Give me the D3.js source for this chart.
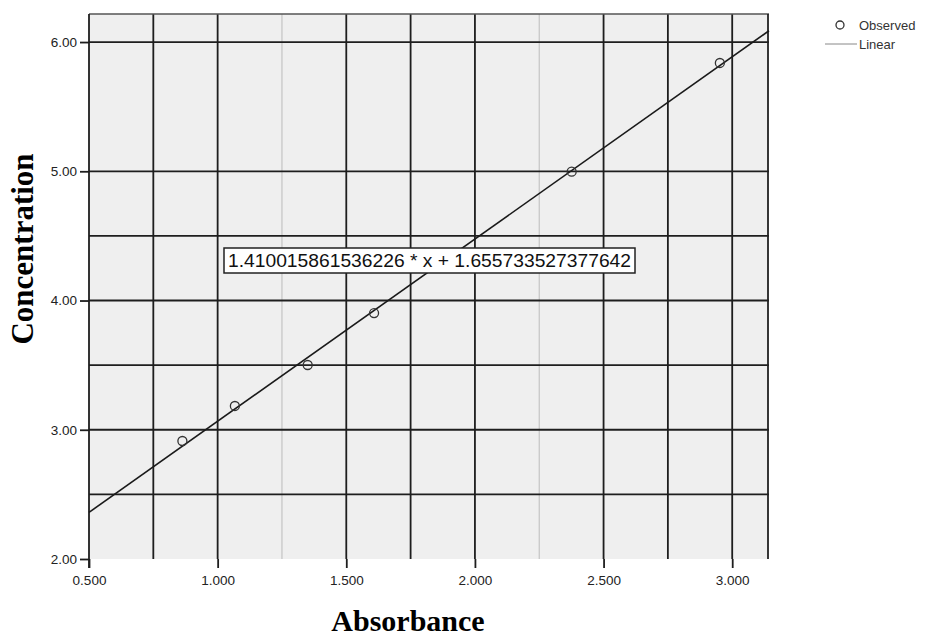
<!DOCTYPE html>
<html>
<head>
<meta charset="utf-8">
<script src="https://cdn.jsdelivr.net/npm/d3@7"></script>
<style>
  body { margin: 0; background: #fff; }
  svg { display: block; }
</style>
</head>
<body>
<script>
// observed points
const absorbance = [0.863, 1.067, 1.350, 1.608, 2.376, 2.952];
const concentration = [2.913, 3.184, 3.501, 3.903, 4.997, 5.838];

// linear fit
const slope = 1.410015861536226;
const intercept = 1.655733527377642;
const fitLabel = "1.410015861536226 * x + 1.655733527377642";

// ticks and grid
const xTicks = [0.5, 1.0, 1.5, 2.0, 2.5, 3.0];
const yTicks = [2, 3, 4, 5, 6];
const xGridDark = [0.75, 1.0, 1.5, 1.75, 2.0, 2.5, 2.75, 3.0];
const xGridLight = [1.25, 2.25];
const yGridDark = [2.5, 3.0, 3.5, 4.0, 4.5, 5.0, 6.0];

const width = 939, height = 639;
const pLeft = 89, pRight = 769, pTop = 14, pBottom = 559;

const svg = d3.select("body").append("svg")
    .attr("width", width)
    .attr("height", height);

const x = d3.scaleLinear().domain([0.5, 3.143]).range([pLeft, pRight]);
const y = d3.scaleLinear().domain([2.0, 6.217]).range([pBottom, pTop]);

// plot background
svg.append("rect")
    .attr("x", pLeft).attr("y", pTop)
    .attr("width", pRight - pLeft).attr("height", pBottom - pTop)
    .attr("fill", "#efefef");

// grid
svg.selectAll(".gxl").data(xGridLight).enter().append("line")
    .attr("x1", d => x(d)).attr("x2", d => x(d))
    .attr("y1", pTop).attr("y2", pBottom)
    .attr("stroke", "#c4c4c4").attr("stroke-width", 1.2);

svg.selectAll(".gxd").data(xGridDark).enter().append("line")
    .attr("x1", d => x(d)).attr("x2", d => x(d))
    .attr("y1", pTop).attr("y2", pBottom)
    .attr("stroke", "#1e1e1e").attr("stroke-width", 1.8);

svg.selectAll(".gyd").data(yGridDark).enter().append("line")
    .attr("x1", pLeft).attr("x2", pRight)
    .attr("y1", d => y(d)).attr("y2", d => y(d))
    .attr("stroke", "#1e1e1e").attr("stroke-width", 1.8);

// frame top / right
svg.append("line").attr("x1", pLeft).attr("x2", pRight).attr("y1", pTop).attr("y2", pTop)
    .attr("stroke", "#555").attr("stroke-width", 1.5);
svg.append("line").attr("x1", pRight - 1).attr("x2", pRight - 1).attr("y1", pTop).attr("y2", pBottom)
    .attr("stroke", "#222").attr("stroke-width", 1.8);

// axes
const xAxis = d3.axisBottom(x).tickValues(xTicks).tickFormat(d3.format(".3f"))
    .tickSize(9).tickPadding(7);
const gx = svg.append("g").attr("transform", `translate(0,${pBottom})`).call(xAxis);
gx.select(".domain").remove();

const yAxis = d3.axisLeft(y).tickValues(yTicks).tickFormat(d3.format(".2f"))
    .tickSize(9).tickPadding(3);
const gy = svg.append("g").attr("transform", `translate(${pLeft},0)`).call(yAxis);
gy.select(".domain").remove();
svg.append("line").attr("x1", pLeft).attr("x2", pLeft).attr("y1", pTop).attr("y2", pBottom + 9)
    .attr("stroke", "#1e1e1e").attr("stroke-width", 1.8);

svg.selectAll(".tick line").attr("stroke", "#1e1e1e").attr("stroke-width", 1.8);
svg.selectAll(".tick text")
    .attr("font-family", "Arial, 'Liberation Sans', sans-serif")
    .attr("font-size", 13.5)
    .attr("fill", "#222");

// fit line
const fitX = x.domain();
svg.append("line")
    .attr("x1", x(fitX[0])).attr("y1", y(slope * fitX[0] + intercept))
    .attr("x2", x(fitX[1])).attr("y2", y(slope * fitX[1] + intercept))
    .attr("stroke", "#1a1a1a").attr("stroke-width", 1.6);

// observed points
svg.selectAll(".pt").data(absorbance).enter().append("circle")
    .attr("cx", d => x(d))
    .attr("cy", (d, i) => y(concentration[i]))
    .attr("r", 4.5)
    .attr("fill", "none")
    .attr("stroke", "#333")
    .attr("stroke-width", 1.3);

// equation label
const eq = svg.append("g");
eq.append("rect")
    .attr("x", 224).attr("y", 248).attr("width", 411).attr("height", 25)
    .attr("fill", "#fff").attr("stroke", "#222").attr("stroke-width", 1.5);
eq.append("text")
    .attr("x", 228).attr("y", 267)
    .attr("font-family", "Arial, 'Liberation Sans', sans-serif")
    .attr("font-size", 18)
    .attr("textLength", 403)
    .attr("lengthAdjust", "spacingAndGlyphs")
    .attr("fill", "#111")
    .text(fitLabel);

// axis titles
svg.append("text")
    .attr("x", 408).attr("y", 631)
    .attr("text-anchor", "middle")
    .attr("font-family", "'Liberation Serif', 'Times New Roman', serif")
    .attr("font-weight", "bold")
    .attr("font-size", 30)
    .text("Absorbance");

svg.append("text")
    .attr("transform", "translate(33,249) rotate(-90)")
    .attr("text-anchor", "middle")
    .attr("font-family", "'Liberation Serif', 'Times New Roman', serif")
    .attr("font-weight", "bold")
    .attr("font-size", 31)
    .text("Concentration");

// legend
const lg = svg.append("g").attr("font-family", "Arial, 'Liberation Sans', sans-serif")
    .attr("font-size", 13).attr("fill", "#333");
lg.append("circle").attr("cx", 840).attr("cy", 25).attr("r", 4)
    .attr("fill", "none").attr("stroke", "#333").attr("stroke-width", 1.3);
lg.append("text").attr("x", 859).attr("y", 30).text("Observed");
lg.append("line").attr("x1", 825).attr("x2", 857).attr("y1", 44).attr("y2", 44)
    .attr("stroke", "#888").attr("stroke-width", 1);
lg.append("text").attr("x", 859).attr("y", 49).text("Linear");
</script>
</body>
</html>
